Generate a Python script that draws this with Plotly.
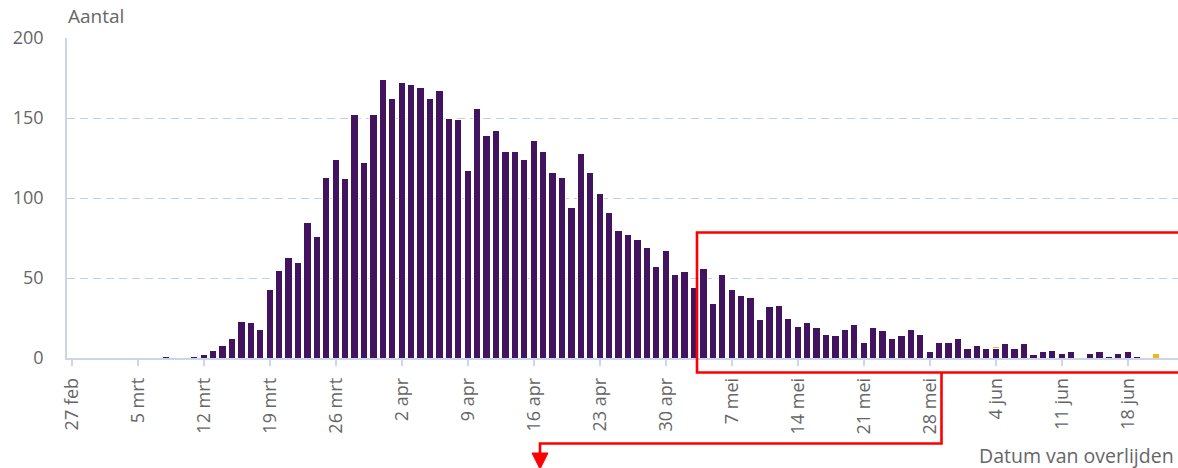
import plotly.graph_objects as go
import pandas as pd

# ---- data ----
dates = [d.strftime("%Y-%m-%d") for d in pd.date_range("2020-02-27", periods=116, freq="D")]
deaths = [0, 0, 0, 0, 0, 0, 0, 0, 0, 0,
          1, 0, 0, 1, 2, 5, 8, 12, 23, 22,
          18, 43, 55, 63, 60, 85, 76, 113, 124, 112,
          152, 122, 152, 174, 162, 172, 171, 169, 162, 167,
          150, 149, 117, 156, 139, 142, 129, 129, 124, 136,
          129, 116, 113, 94, 128, 116, 103, 91, 80, 77,
          74, 69, 57, 67, 52, 54, 44, 56, 34, 52,
          43, 39, 38, 24, 32, 33, 25, 20, 22, 19,
          15, 14, 18, 21, 10, 19, 17, 12, 14, 18,
          15, 4, 10, 10, 12, 6, 8, 6, 6, 9,
          6, 9, 2, 4, 5, 3, 4, 0, 3, 4,
          1, 3, 4, 1, 0, 0]
late_dates = ["2020-06-04", "2020-06-21"]
late_values = [1, 3]

tick_dates = ["2020-02-27", "2020-03-05", "2020-03-12", "2020-03-19", "2020-03-26",
              "2020-04-02", "2020-04-09", "2020-04-16", "2020-04-23", "2020-04-30",
              "2020-05-07", "2020-05-14", "2020-05-21", "2020-05-28", "2020-06-04",
              "2020-06-11", "2020-06-18"]
tick_labels = ["27 feb", "5 mrt", "12 mrt", "19 mrt", "26 mrt", "2 apr", "9 apr",
               "16 apr", "23 apr", "30 apr", "7 mei", "14 mei", "21 mei", "28 mei",
               "4 jun", "11 jun", "18 jun"]
y_ticks = [0, 50, 100, 150, 200]

# ---- style ----
PURPLE = "#42145f"
ORANGE = "#f9b21c"
GREY = "#666666"
AXIS = "#ccd6eb"
GRID = "#c2d0e3"
RED = "#ff0000"
FONT = "Open Sans"

W, H = 1178, 468
L, R, T, B = 67, 0, 38, 110


def px(x):
    return (x - L) / (W - L - R)


def py(y):
    return (H - B - y) / (H - T - B)


fig = go.Figure()
fig.add_trace(go.Bar(x=dates, y=deaths, marker=dict(color=PURPLE, line=dict(color="white", width=1)),
                     name="Overleden", hoverinfo="x+y"))
fig.add_trace(go.Bar(x=late_dates, y=late_values, marker=dict(color=ORANGE, line=dict(color="white", width=1)),
                     name="Nog te verwachten", hoverinfo="x+y"))

fig.update_layout(
    width=W, height=H,
    margin=dict(l=L, r=R, t=T, b=B, autoexpand=False),
    paper_bgcolor="white", plot_bgcolor="white",
    barmode="stack", bargap=0.22,
    showlegend=False,
    font=dict(family=FONT, color=GREY, size=18),
)

fig.update_xaxes(
    type="date",
    range=["2020-02-26 12:00", "2020-06-23 08:00"],
    tickmode="array", tickvals=tick_dates, ticktext=tick_labels,
    tickangle=-90, ticks="outside", ticklen=6, tickwidth=1.5, tickcolor=AXIS,
    showline=True, linecolor=AXIS, linewidth=1.5,
    showgrid=False, zeroline=False,
    tickfont=dict(size=18, color=GREY, family=FONT),
    ticklabelstandoff=5,
)
fig.update_yaxes(
    range=[0, 200], tickmode="array", tickvals=y_ticks,
    showgrid=True, gridcolor=GRID, gridwidth=1.2, griddash="8px,5px",
    showline=True, linecolor=AXIS, linewidth=1.5,
    zeroline=False, ticks="",
    tickfont=dict(size=18, color=GREY, family=FONT),
    ticklabelstandoff=18,
)

fig.add_annotation(text="Aantal", xref="paper", yref="paper", x=0, y=1,
                   xanchor="left", yanchor="middle", yshift=22, xshift=-1,
                   showarrow=False, font=dict(size=19, color=GREY, family=FONT))
fig.add_annotation(text="Datum van overlijden", xref="paper", yref="paper", x=1, y=0,
                   xanchor="right", yanchor="middle", yshift=-97, xshift=-2,
                   showarrow=False, font=dict(size=19.5, color=GREY, family=FONT))

# red highlight overlay
rect = (f"M {px(1190)},{py(232.5)} L {px(697)},{py(232.5)} "
        f"L {px(697)},{py(372.5)} L {px(1190)},{py(372.5)}")
bracket = (f"M {px(941.5)},{py(372.5)} L {px(941.5)},{py(443.5)} "
           f"L {px(540)},{py(443.5)} L {px(540)},{py(455)}")
head = f"M {px(532)},{py(453)} L {px(548)},{py(453)} L {px(540)},{py(469)} Z"
fig.add_shape(type="path", path=rect, xref="paper", yref="paper", line=dict(color=RED, width=2.6))
fig.add_shape(type="path", path=bracket, xref="paper", yref="paper", line=dict(color=RED, width=2.6))
fig.add_shape(type="path", path=head, xref="paper", yref="paper", line=dict(color=RED, width=1),
              fillcolor=RED)

fig.write_html("out.html", config={"displayModeBar": False},
               post_script="document.body.style.margin='0px';document.body.style.overflow='hidden';")
